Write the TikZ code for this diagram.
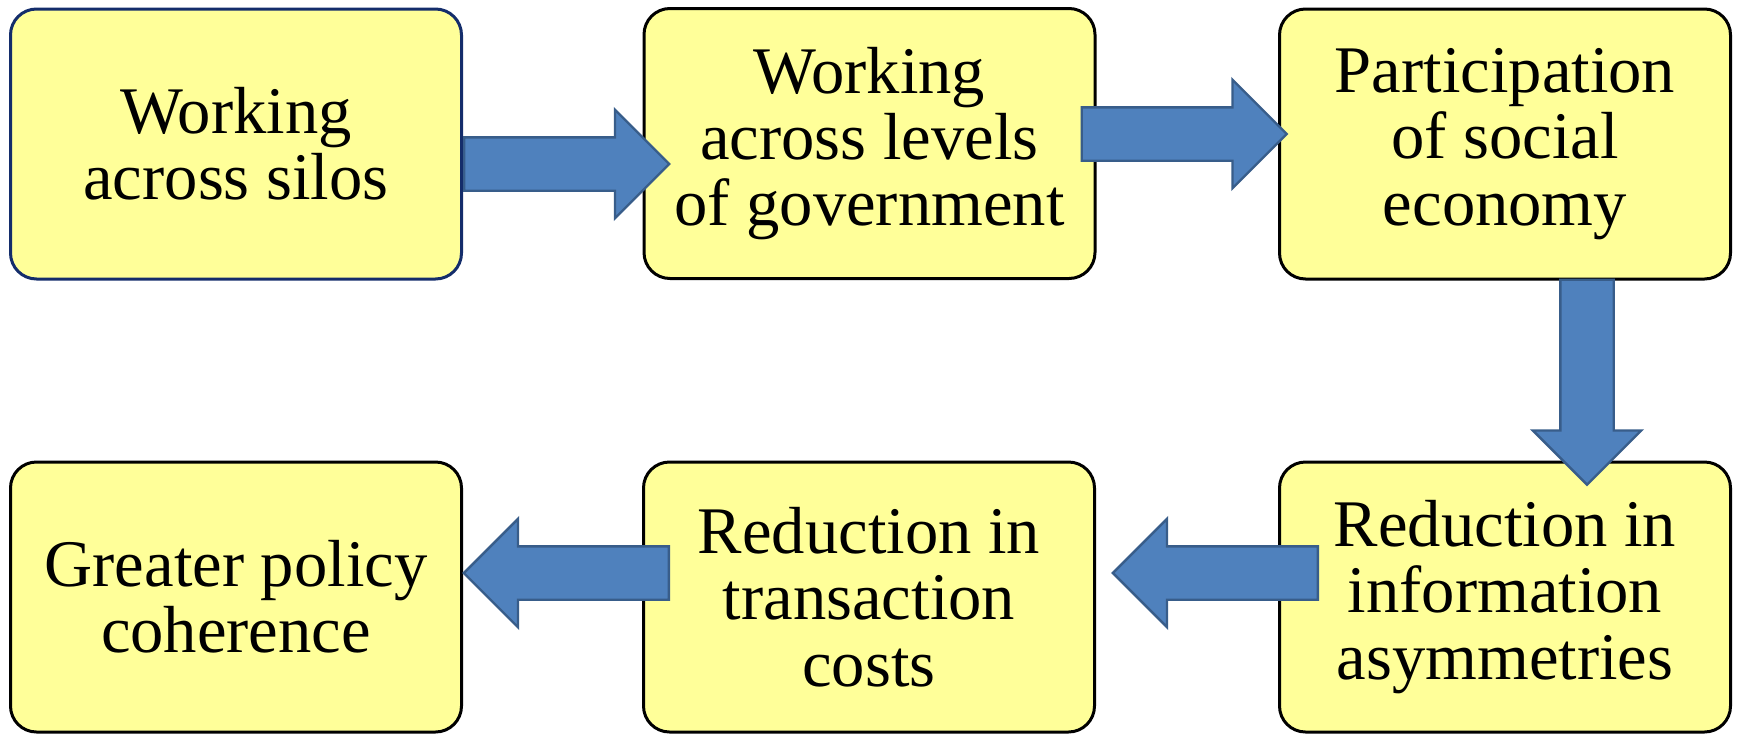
\documentclass[tikz,border=0pt]{standalone}
\usepackage{fontspec}
\setmainfont{Liberation Serif}
\usetikzlibrary{shapes.arrows,calc}
\definecolor{boxfill}{HTML}{FFFF99}
\definecolor{silosline}{HTML}{142D6B}
\definecolor{arrowfill}{HTML}{4F81BD}
\definecolor{arrowline}{HTML}{385D8A}
\begin{document}
\begin{tikzpicture}[x=0.5pt,y=-0.5pt,
    stage/.style={draw=black, line width=1.5pt, fill=boxfill, rounded corners=13pt,
      minimum width=225.5pt, minimum height=135pt, align=center, inner sep=0pt,
      font=\fontsize{33.3}{33.2}\selectfont},
    flow/.style={single arrow, draw=arrowline, fill=arrowfill, line width=1.2pt,
      single arrow head extend=13.75pt, single arrow tip angle=90,
      minimum height=102.5pt, inner xsep=0pt, inner ysep=12.75pt, anchor=tail}]
    \useasboundingbox (0,0) rectangle (1739,734);
    % top row
    \node [stage, draw=silosline] (b1) at (236,144) {Working\\across silos};
    \node [stage] (b2) at (869.5,143.5) {Working\\across levels\\of government};
    \node [stage] (b3) at (1505,144) {Participation\\of social\\economy};
    % bottom row
    \node [stage] (b4) at (236,597) {Greater policy\\coherence};
    \node [stage] (b5) at (869,597) {Reduction in\\transaction\\costs};
    \node [stage] (b6) at (1505,597) {Reduction in\\information\\asymmetries};
    % block arrows
    \node [flow] (a1) at ($(b1.east)+(0,20)$) {};
    \node [flow] (a2) at ($(b2.east)+(-16,-9.5)$) {};
    \node [flow, rotate=-90] (a3) at ($(b3.south)+(82,-2)$) {};
    \node [flow, rotate=180] (a4) at ($(b6.west)+(41,-24)$) {};
    \node [flow, rotate=180] (a5) at ($(b5.west)+(28,-24)$) {};
  \end{tikzpicture}
\end{document}
